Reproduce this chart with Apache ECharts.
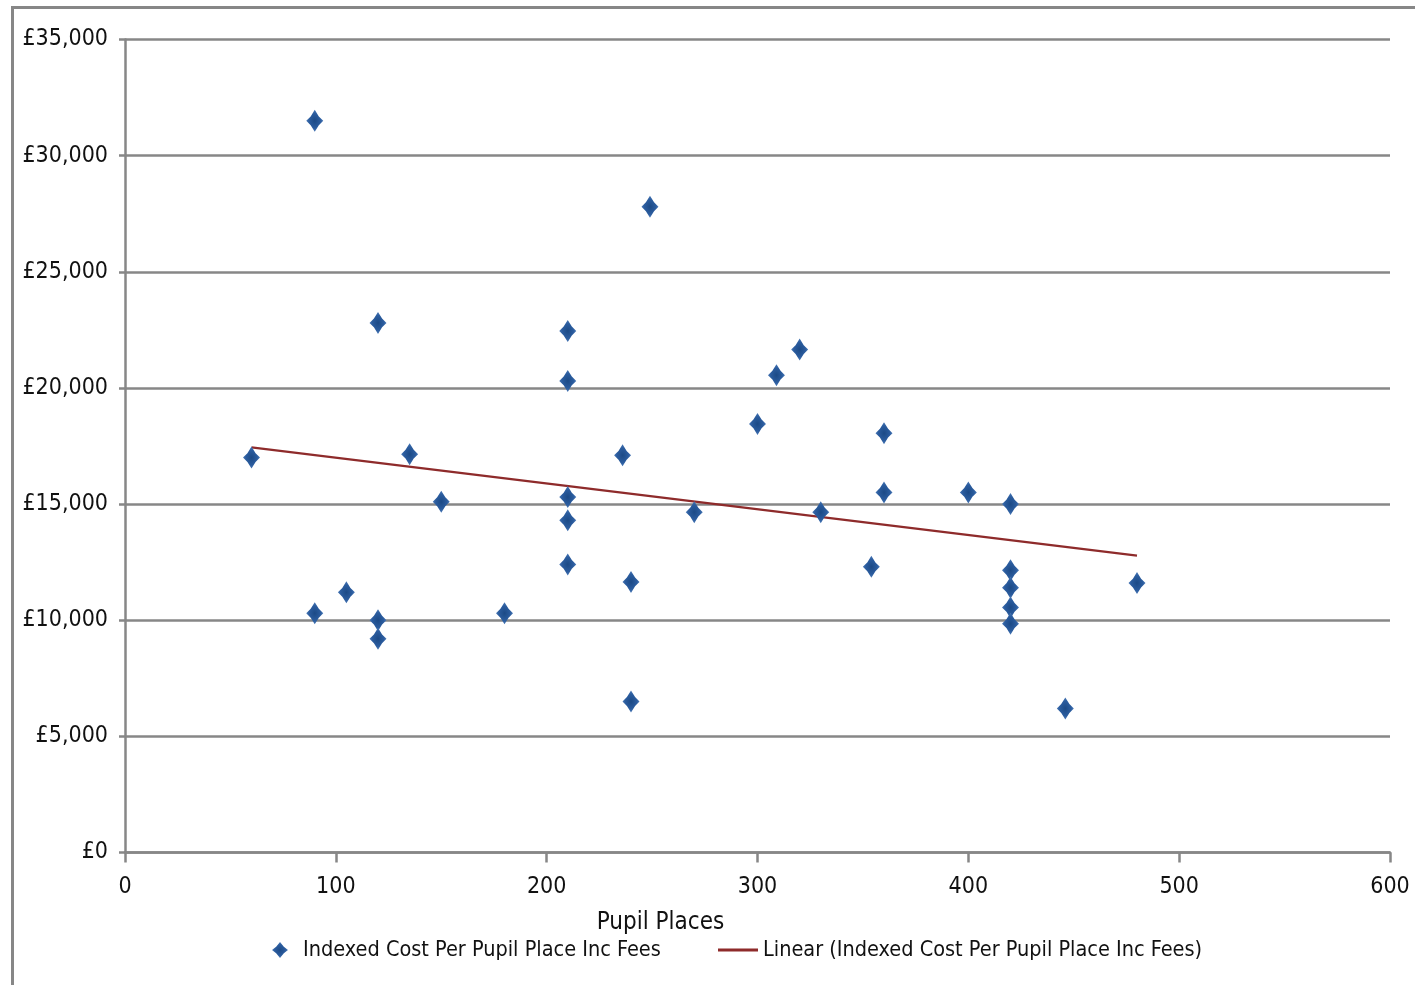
<!DOCTYPE html>
<html>
<head>
<meta charset="utf-8">
<script src="https://cdn.jsdelivr.net/npm/echarts@6/dist/echarts.min.js"></script>
<style>
  html, body { margin: 0; padding: 0; background: #fff; }
  #chart { width: 1415px; height: 985px; }
</style>
</head>
<body>
<div id="chart"></div>
<script>
// ---- data ----
const pupilPlaces = [60, 90, 90, 105, 120, 120, 120, 135, 150, 180,
  210, 210, 210, 210, 210, 236, 240, 240, 249, 270,
  300, 309, 320, 330, 354, 360, 360, 400, 420, 420,
  420, 420, 420, 446, 480];
const costPerPlace = [17000, 31500, 10300, 11200, 22800, 10000, 9200, 17150, 15100, 10300,
  22450, 20300, 15300, 14300, 12400, 17100, 11650, 6500, 27800, 14650,
  18450, 20550, 21650, 14650, 12300, 18050, 15500, 15500, 15000, 12150,
  11400, 10550, 9850, 6200, 11600];
const trendX = [60, 480];
const trendY = [17440, 12780];
const xTicks = [0, 100, 200, 300, 400, 500, 600];
const xTickLabels = ['0', '100', '200', '300', '400', '500', '600'];
const yTicks = [0, 5000, 10000, 15000, 20000, 25000, 30000, 35000];
const yTickLabels = ['£0', '£5,000', '£10,000', '£15,000', '£20,000', '£25,000', '£30,000', '£35,000'];
const scatterName = 'Indexed Cost Per Pupil Place Inc Fees';
const trendName = 'Linear (Indexed Cost Per Pupil Place Inc Fees)';
const xAxisName = 'Pupil Places';

// ---- chart ----
const FONT = "'Liberation Sans Narrow', 'Arial Narrow', 'DejaVu Sans Condensed', sans-serif";
const GRAY = '#878787';
const TEXT = '#111111';
const MARKER = 'path://M50 0 L74 30 L100 50 L74 70 L50 100 L26 70 L0 50 L26 30 Z';
const markerFill = {
  type: 'radial', x: 0.5, y: 0.5, r: 0.6,
  colorStops: [{ offset: 0, color: '#1c4a86' }, { offset: 0.55, color: '#2b5c9e' }, { offset: 1, color: '#5a88c4' }]
};
const chart = echarts.init(document.getElementById('chart'), null, { renderer: 'canvas' });

const scatterData = pupilPlaces.map((x, i) => [x, costPerPlace[i]]);
const trendData = trendX.map((x, i) => [x, trendY[i]]);

chart.setOption({
  animation: false,
  backgroundColor: '#ffffff',
  graphic: [{
    type: 'rect',
    shape: { x: 12.5, y: 7.5, width: 1500, height: 1100 },
    style: { fill: 'none', stroke: GRAY, lineWidth: 3 },
    silent: true
  }],
  grid: { left: 125, right: 25, top: 39.5, bottom: 132.5, containLabel: false },
  xAxis: {
    type: 'value', min: 0, max: 600, interval: 100,
    name: xAxisName, nameLocation: 'middle', nameGap: 58,
    nameTextStyle: { fontFamily: FONT, fontSize: 24, color: TEXT, padding: [0, 194, 0, 0] },
    axisLine: { show: true, onZero: false, lineStyle: { color: GRAY, width: 2.5 } },
    axisTick: { show: true, length: 10, inside: false, lineStyle: { color: GRAY, width: 2.5 } },
    axisLabel: {
      margin: 23, fontFamily: FONT, fontSize: 23, color: TEXT,
      formatter: v => xTickLabels[xTicks.indexOf(v)]
    },
    splitLine: { show: false }
  },
  yAxis: {
    type: 'value', min: 0, max: 35000, interval: 5000,
    axisLine: { show: true, lineStyle: { color: GRAY, width: 2.5 } },
    axisTick: { show: true, length: 6, inside: false, lineStyle: { color: GRAY, width: 2.5 } },
    axisLabel: {
      margin: 17, fontFamily: FONT, fontSize: 23, color: TEXT,
      formatter: v => yTickLabels[yTicks.indexOf(v)]
    },
    splitLine: { show: true, lineStyle: { color: GRAY, width: 2.5 } }
  },
  legend: [{
    data: [{ name: scatterName, icon: MARKER }],
    left: 272, top: 939,
    itemWidth: 16, itemHeight: 20, padding: 0,
    itemStyle: { color: markerFill },
    textStyle: {
      fontFamily: FONT, fontSize: 21.5, color: TEXT, lineHeight: 22,
      rich: { t: { fontFamily: FONT, fontSize: 21.5, color: TEXT, lineHeight: 22, padding: [0, 0, 0, 10] } }
    },
    formatter: n => '{t|' + n + '}',
    selectedMode: false
  }, {
    data: [{ name: trendName, icon: 'rect' }],
    left: 718, top: 939,
    itemWidth: 40, itemHeight: 3, padding: 0,
    textStyle: { fontFamily: FONT, fontSize: 21.5, color: TEXT, lineHeight: 22 },
    selectedMode: false
  }],
  series: [{
    name: scatterName,
    type: 'scatter',
    symbol: MARKER,
    symbolKeepAspect: false,
    symbolSize: [17, 22],
    itemStyle: { color: markerFill, opacity: 1 },
    data: scatterData,
    z: 3
  }, {
    name: trendName,
    type: 'line',
    data: trendData,
    showSymbol: false,
    symbol: 'none',
    lineStyle: { color: '#8e2b2b', width: 2.2 },
    itemStyle: { color: '#8e2b2b' },
    z: 2
  }]
});
</script>
</body>
</html>
